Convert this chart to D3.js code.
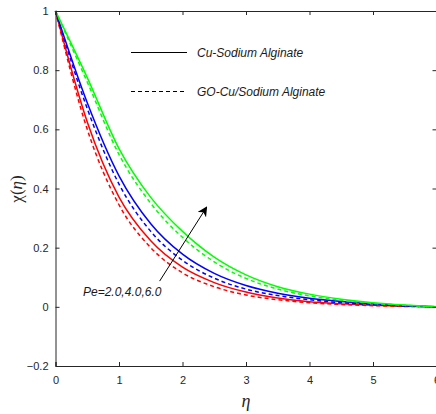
<!DOCTYPE html>
<html><head><meta charset="utf-8">
<script src="https://cdn.jsdelivr.net/npm/d3@7"></script>
<style>body{margin:0;background:#fff}svg{display:block}</style>
</head><body><svg id="c" width="436" height="414"></svg>
<script>
const eta = [0,0.5,1,1.5,2,2.5,3,3.5,4,4.5,5,5.5,6];
const greenSolid = [1,0.775,0.535,0.37,0.255,0.168,0.108,0.068,0.043,0.026,0.014,0.006,0];
const greenDash  = [1,0.76,0.515,0.35,0.235,0.152,0.096,0.06,0.037,0.022,0.012,0.005,0];
const blueSolid  = [1,0.69,0.443,0.281,0.178,0.113,0.072,0.046,0.029,0.018,0.01,0.004,0];
const blueDash   = [1,0.67,0.415,0.255,0.157,0.097,0.06,0.038,0.024,0.014,0.008,0.003,0];
const redSolid   = [1,0.625,0.371,0.223,0.134,0.082,0.05,0.03,0.017,0.01,0.005,0.002,0];
const redDash    = [1,0.6,0.345,0.2,0.115,0.068,0.04,0.024,0.014,0.008,0.004,0.0015,0];
const xTicks = [0,1,2,3,4,5,6];
const yTicks = [-0.2,0,0.2,0.4,0.6,0.8,1];
const legendLabels = ["Cu-Sodium Alginate","GO-Cu/Sodium Alginate"];
const annotation = "Pe=2.0,4.0,6.0";

const svg = d3.select("#c");
const x = d3.scaleLinear().domain([0,6]).range([55.5,436.5]);
const y = d3.scaleLinear().domain([-0.2,1]).range([366,11]);
const axisColor = "#262626";

// curves
const series = [
  {v: redDash, c:"#ff0000", d:true},
  {v: redSolid, c:"#ff0000", d:false},
  {v: blueDash, c:"#0000ff", d:true},
  {v: blueSolid, c:"#0000ff", d:false},
  {v: greenDash, c:"#00ff00", d:true},
  {v: greenSolid, c:"#00ff00", d:false}
];
const line = d3.line().x((d,i)=>x(eta[i])).y(d=>y(d)).curve(d3.curveMonotoneX);
svg.append("g").selectAll("path").data(series).join("path")
  .attr("d", d=>line(d.v)).attr("fill","none").attr("stroke", d=>d.c)
  .attr("stroke-width",1.5).attr("stroke-dasharray", d=>d.d?"4,3":null);

// axes
const fontT = "Liberation Sans, Arial, sans-serif";
const gx = svg.append("g").attr("transform",`translate(0,${y(-0.2)})`)
  .call(d3.axisBottom(x).tickValues(xTicks).tickSize(-4).tickPadding(10).tickFormat(d3.format("d")));
const gxt = svg.append("g").attr("transform",`translate(0,${y(1)})`)
  .call(d3.axisTop(x).tickValues(xTicks).tickSize(-4).tickFormat(""));
const gy = svg.append("g").attr("transform",`translate(${x(0)},0)`)
  .call(d3.axisLeft(y).tickValues(yTicks).tickSize(-4).tickPadding(7).tickFormat(d=>d===0?"0":d===1?"1":d3.format("")(+d.toFixed(1))));
const gyr = svg.append("g").attr("transform",`translate(${x(6)},0)`)
  .call(d3.axisRight(y).tickValues(yTicks).tickSize(-4).tickFormat(""));
[gx,gxt,gy,gyr].forEach(g=>{
  g.select(".domain").attr("stroke",axisColor);
  g.selectAll(".tick line").attr("stroke",axisColor);
  g.selectAll("text").attr("fill",axisColor).attr("font-family",fontT).attr("font-size",11);
});

// axis labels
svg.append("text").attr("x",x(3)).attr("y",407).attr("text-anchor","middle")
  .attr("font-family","Liberation Serif, Times New Roman, serif").attr("font-style","italic")
  .attr("font-size",18).attr("fill",axisColor).text("η");
const yl = svg.append("text").attr("transform","translate(22,189) rotate(-90)").attr("text-anchor","middle")
  .attr("font-family","Liberation Serif, Times New Roman, serif").attr("font-size",17).attr("fill",axisColor);
yl.append("tspan").text("χ(");
yl.append("tspan").attr("font-style","italic").text("η");
yl.append("tspan").text(")");

// legend
const lg = svg.append("g");
[[52.5,null],[91.5,"4,3"]].forEach((p,i)=>{
  lg.append("line").attr("x1",131).attr("x2",i?184:187).attr("y1",p[0]).attr("y2",p[0])
    .attr("stroke","#000").attr("stroke-width",1.2).attr("stroke-dasharray",p[1]);
  lg.append("text").attr("x",197).attr("y",p[0]+4).attr("font-family",fontT).attr("font-style","italic")
    .attr("font-size",12).attr("fill","#1a1a1a").text(legendLabels[i]);
});

// arrow
svg.append("defs").append("marker").attr("id","ah").attr("viewBox","0 0 10 10").attr("refX",9).attr("refY",5)
  .attr("markerWidth",10).attr("markerHeight",10).attr("markerUnits","userSpaceOnUse").attr("orient","auto")
  .append("path").attr("d","M0,0 L10,5 L0,10 L3,5 Z").attr("fill","#000");
svg.append("line").attr("x1",x(1.64)).attr("y1",y(0.087)).attr("x2",x(2.38)).attr("y2",y(0.337))
  .attr("stroke","#000").attr("stroke-width",1).attr("marker-end","url(#ah)");
svg.append("text").attr("x",83).attr("y",296).attr("font-family",fontT).attr("font-style","italic")
  .attr("font-size",12).attr("fill","#1a1a1a").text(annotation);
</script></body></html>
